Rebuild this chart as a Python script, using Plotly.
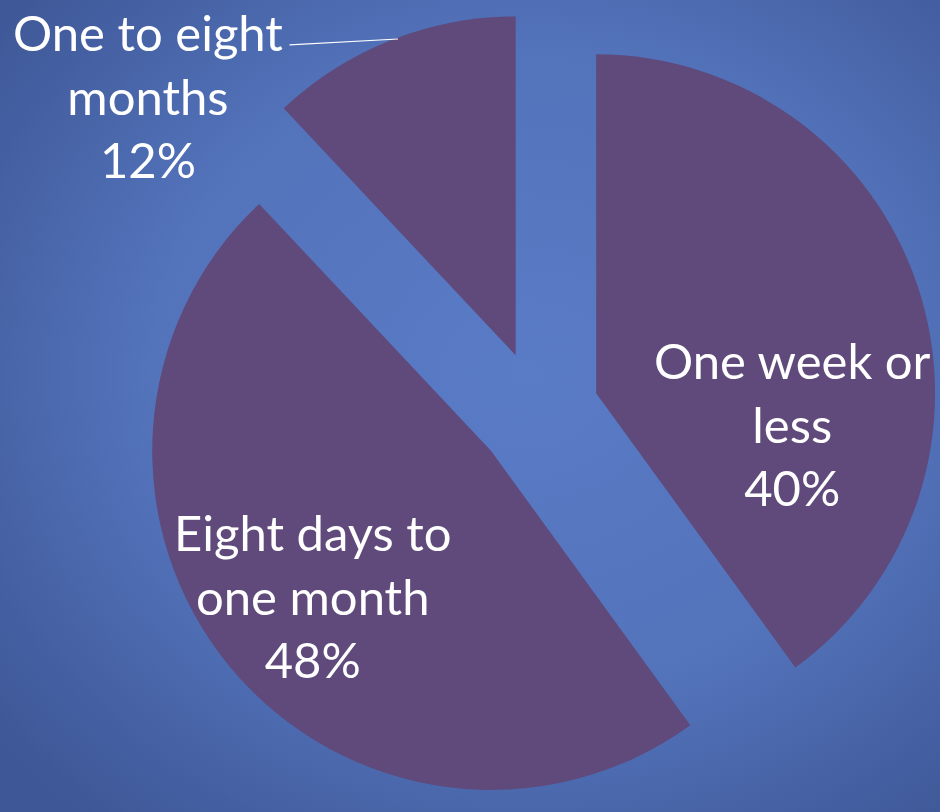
import base64

import plotly.graph_objects as go

# Pie data (clockwise from 12 o'clock)
labels = ['One week or less', 'Eight days to one month', 'One to eight months']
label_lines = ['One week or<br>less', 'Eight days to<br>one month', 'One to eight<br>months']
values = [40, 48, 12]

SLICE_COLOR = '#5f4a7b'
TEXT_FONT = dict(family='Lato, Open Sans, sans-serif', size=49, color='white')

# soft radial blue backdrop, like the slide background
bg_svg = (
    '<svg xmlns="http://www.w3.org/2000/svg" width="940" height="812">'
    '<defs><radialGradient id="g" cx="0.56" cy="0.46" r="0.72">'
    '<stop offset="0" stop-color="#5a7bc6"/>'
    '<stop offset="0.55" stop-color="#5373bb"/>'
    '<stop offset="1" stop-color="#3e5796"/>'
    '</radialGradient></defs>'
    '<rect width="940" height="812" fill="url(#g)"/></svg>'
)
bg_uri = 'data:image/svg+xml;base64,' + base64.b64encode(bg_svg.encode()).decode()

slice_text = [f'{t}<br>{v}%' for t, v in zip(label_lines, values)]

fig = go.Figure(go.Pie(
    labels=labels,
    values=values,
    textinfo='none',
    sort=False,
    direction='clockwise',
    rotation=0,
    pull=[0.18, 0.18, 0.18],
    marker=dict(colors=[SLICE_COLOR] * len(values), line=dict(width=0)),
    domain=dict(x=[0.145, 1.0], y=[0.0, 0.985]),
    hoverinfo='label+percent',
    showlegend=False,
))

# labels placed like the slide: two inside, the small slice outside with a leader line
label_pos = [(0.8436, 0.478), (0.333, 0.267), (0.1574, 0.883)]
for txt, (lx, ly) in zip(slice_text, label_pos):
    fig.add_annotation(x=lx, y=ly, xref='paper', yref='paper',
                       xanchor='center', yanchor='middle',
                       text=txt, font=TEXT_FONT, showarrow=False)

# thin leader line from the small slice's label towards the slice
fig.add_annotation(
    x=0.4234, y=0.952, xref='paper', yref='paper', text='',
    showarrow=True, arrowhead=0, arrowwidth=1.2, arrowcolor='white',
    ax=-110, ay=6,
)

fig.update_layout(
    width=940, height=812,
    margin=dict(l=0, r=0, t=0, b=0),
    paper_bgcolor='#4e6cb4',
    plot_bgcolor='#4e6cb4',
    images=[dict(source=bg_uri, xref='paper', yref='paper', x=0, y=1,
                 sizex=1, sizey=1, sizing='stretch', layer='below')],
)

# drop the browser's default body margin so the figure sits flush in the window
fig.write_html('out.html',
               config={'displayModeBar': False},
               post_script="document.body.style.margin='0';"
                           "document.body.style.overflow='hidden';")
